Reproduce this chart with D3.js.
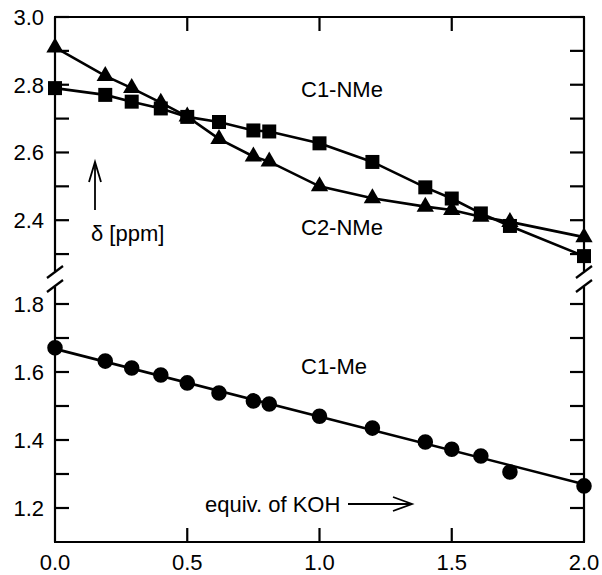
<!DOCTYPE html>
<html>
<head>
<meta charset="utf-8">
<script src="https://cdn.jsdelivr.net/npm/d3@7"></script>
<style>
  body { margin: 0; background: #fff; }
  text { font-family: "Liberation Sans", Arial, sans-serif; font-size: 22px; fill: #000; }
</style>
</head>
<body>
<div id="chart"></div>
<script>
// Frame size
const FRAME_WIDTH = 602;
const FRAME_HEIGHT = 575;

// Data
const equivKOH = [0, 0.19, 0.29, 0.40, 0.50, 0.62, 0.75, 0.81, 1.00, 1.20, 1.40, 1.50, 1.61, 1.72, 2.00];
const c2NMe = [2.91, 2.826, 2.79, 2.747, 2.706, 2.64, 2.588, 2.573, 2.50, 2.465, 2.44, 2.43, 2.41, 2.395, 2.35];
const c1NMe = [2.79, 2.77, 2.75, 2.73, 2.705, 2.69, 2.665, 2.662, 2.627, 2.572, 2.497, 2.464, 2.42, 2.383, 2.294];
const c1Me = [1.671, 1.632, 1.612, 1.591, 1.568, 1.538, 1.515, 1.506, 1.47, 1.435, 1.394, 1.373, 1.353, 1.306, 1.265];
// fitted straight line through the C1-Me points
const c1MeFitX = [0, 2.0];
const c1MeFitY = [1.668, 1.27];

// Tick labels
const xTicks = [0, 0.5, 1.0, 1.5, 2.0];
const yTicksUpper = [2.3, 2.4, 2.5, 2.6, 2.7, 2.8, 2.9, 3.0];
const yTicksLower = [1.2, 1.3, 1.4, 1.5, 1.6, 1.7, 1.8];
const yLabels = [1.2, 1.4, 1.6, 1.8, 2.4, 2.6, 2.8, 3.0];

// Broken y axis: lower part 1.1-1.85, upper part 2.25-3.0
const LOWER = [1.1, 1.85];
const UPPER = [2.25, 3.0];

const svg = d3.select("#chart")
  .append("svg")
    .attr("width", FRAME_WIDTH)
    .attr("height", FRAME_HEIGHT);

// Scales
const X = d3.scaleLinear().domain([0, 2]).range([55, 584]);
const Y = d3.scaleLinear()
  .domain([LOWER[0], LOWER[1], UPPER[0], UPPER[1]])
  .range([542, 287, 271, 17]);

const left = X(0), right = X(2);
const TICK = 14;
const axisStyle = (sel) => sel.attr("stroke", "#000").attr("stroke-width", 2.2).attr("fill", "none");
const lineStyle = (sel) => sel.attr("stroke", "#000").attr("stroke-width", 2.6).attr("fill", "none");

// Frame lines (top, bottom, and the two broken vertical sides)
const frame = svg.append("g");
frame.append("line").attr("x1", left - 1).attr("x2", right + 1).attr("y1", Y(3.0)).attr("y2", Y(3.0)).call(axisStyle);
frame.append("line").attr("x1", left - 1).attr("x2", right + 1).attr("y1", Y(1.1)).attr("y2", Y(1.1)).call(axisStyle);
[left, right].forEach(xp => {
  frame.append("line").attr("x1", xp).attr("x2", xp).attr("y1", Y(3.0)).attr("y2", Y(UPPER[0])).call(axisStyle);
  frame.append("line").attr("x1", xp).attr("x2", xp).attr("y1", Y(LOWER[1])).attr("y2", Y(1.1)).call(axisStyle);
  // break marks
  [Y(UPPER[0]) + 1, Y(LOWER[1]) - 1].forEach(yp => {
    frame.append("line")
      .attr("x1", xp - 8).attr("y1", yp + 6)
      .attr("x2", xp + 8).attr("y2", yp - 6)
      .call(axisStyle);
  });
});

// Y ticks, pointing inward on both sides
const yTicksAll = yTicksUpper.concat(yTicksLower);
svg.append("g").selectAll("line.yl")
  .data(yTicksAll).enter().append("line")
    .attr("x1", left).attr("x2", left + TICK)
    .attr("y1", d => Y(d)).attr("y2", d => Y(d))
    .call(axisStyle);
svg.append("g").selectAll("line.yr")
  .data(yTicksAll).enter().append("line")
    .attr("x1", right).attr("x2", right - TICK)
    .attr("y1", d => Y(d)).attr("y2", d => Y(d))
    .call(axisStyle);

// X ticks top and bottom (inner ones only)
const xInner = xTicks.filter(d => d > 0 && d < 2);
svg.append("g").selectAll("line.xb")
  .data(xInner).enter().append("line")
    .attr("x1", d => X(d)).attr("x2", d => X(d))
    .attr("y1", Y(1.1)).attr("y2", Y(1.1) - TICK)
    .call(axisStyle);
svg.append("g").selectAll("line.xt")
  .data(xInner).enter().append("line")
    .attr("x1", d => X(d)).attr("x2", d => X(d))
    .attr("y1", Y(3.0)).attr("y2", Y(3.0) + TICK)
    .call(axisStyle);

// Tick labels
svg.append("g").selectAll("text")
  .data(yLabels).enter().append("text")
    .attr("x", 44).attr("y", d => Y(d)).attr("dy", "0.36em")
    .attr("text-anchor", "end")
    .text(d => d.toFixed(1));
svg.append("g").selectAll("text")
  .data(xTicks).enter().append("text")
    .attr("x", d => Math.min(X(d), 586)).attr("y", 570)
    .attr("text-anchor", "middle")
    .text(d => d.toFixed(1));

// Series lines
const line = d3.line().x(d => X(d[0])).y(d => Y(d[1]));
const pts = (ys) => equivKOH.map((x, i) => [x, ys[i]]);

svg.append("path").datum(pts(c2NMe)).attr("d", line).call(lineStyle);
svg.append("path").datum(pts(c1NMe)).attr("d", line).call(lineStyle);
svg.append("path").datum(c1MeFitX.map((x, i) => [x, c1MeFitY[i]])).attr("d", line).call(lineStyle);

// Markers
const marker = (ys, type, size) => {
  svg.append("g").selectAll("path")
    .data(pts(ys)).enter().append("path")
      .attr("d", d3.symbol().type(type).size(size))
      .attr("transform", d => "translate(" + X(d[0]) + "," + Y(d[1]) + ")")
      .attr("fill", "#000");
};
marker(c2NMe, d3.symbolTriangle, 130);
marker(c1NMe, d3.symbolSquare, 196);
marker(c1Me, d3.symbolCircle, 190);

// Series labels
svg.append("text").attr("x", 301).attr("y", 97).text("C1-NMe");
svg.append("text").attr("x", 301).attr("y", 235).text("C2-NMe");
svg.append("text").attr("x", 301).attr("y", 374).text("C1-Me");

// Axis annotations with arrows
svg.append("text").attr("x", 91).attr("y", 241).text("δ [ppm]");
const arrowUp = svg.append("g").attr("stroke", "#000").attr("stroke-width", 1.8).attr("fill", "none");
arrowUp.append("line").attr("x1", 95).attr("x2", 95).attr("y1", 210).attr("y2", 162);
arrowUp.append("path").attr("d", "M89,182 L95,162 L101,182");

svg.append("text").attr("x", 205).attr("y", 512).text("equiv. of KOH");
const arrowR = svg.append("g").attr("stroke", "#000").attr("stroke-width", 1.8).attr("fill", "none");
arrowR.append("line").attr("x1", 348).attr("x2", 412).attr("y1", 504).attr("y2", 504);
arrowR.append("path").attr("d", "M393,497 L412,504 L393,511");
</script>
</body>
</html>
